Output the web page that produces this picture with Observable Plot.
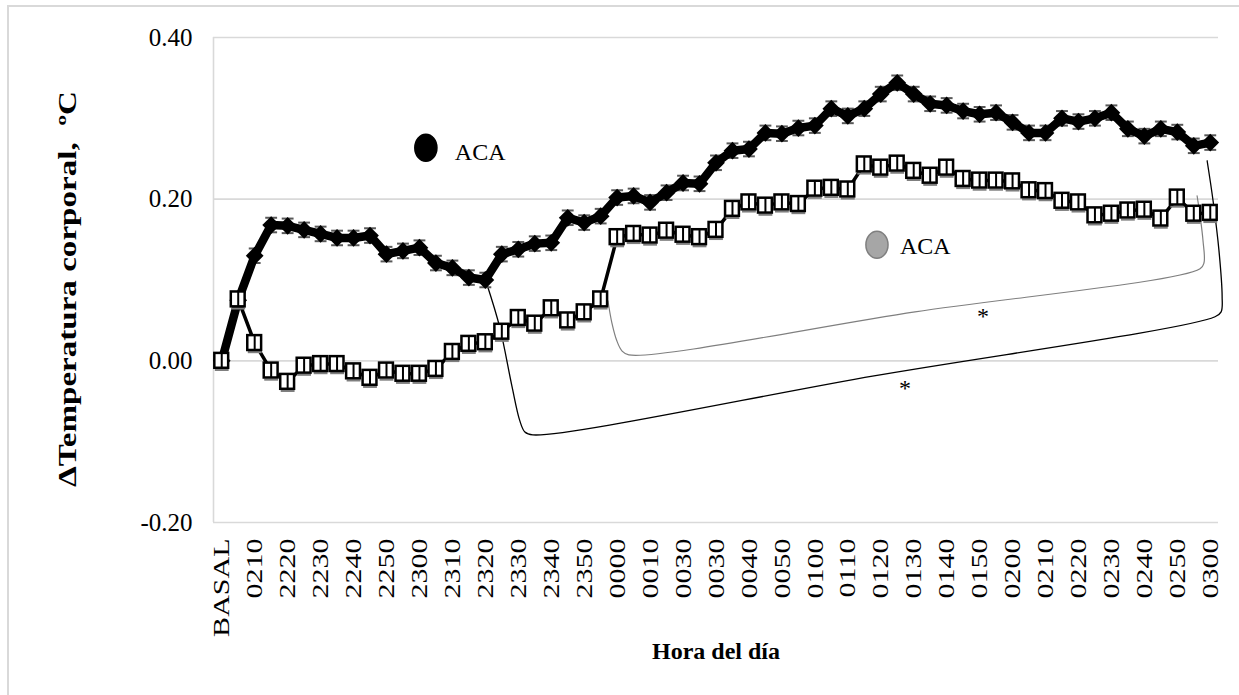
<!DOCTYPE html>
<html>
<head>
<meta charset="utf-8">
<script src="https://cdn.jsdelivr.net/npm/d3@7"></script>
<script src="https://cdn.jsdelivr.net/npm/@observablehq/plot@0.6"></script>
<style>
  html, body { margin: 0; padding: 0; background: #fff; }
  #wrap { position: relative; width: 1239px; height: 695px; overflow: hidden; }
  #frame { position: absolute; left: 7px; top: 5px; width: 1260px; height: 720px;
           border: 2px solid #d9d9d9; box-sizing: border-box; pointer-events: none; }
</style>
</head>
<body>
<div id="wrap"><div id="frame"></div></div>
<script>
// Category labels shown on the time axis (one every second reading)
const tickLabels = ["BASAL","0210","2220","2230","2240","2250","2300","2310","2320","2330",
  "2340","2350","0000","0010","0030","0030","0040","0050","0100","0110","0120","0130",
  "0140","0150","0200","0210","0220","0230","0240","0250","0300"];

// Change in body temperature (°C), filled-diamond series
const acaBlack = [0.000,0.075,0.130,0.168,0.167,0.162,0.157,0.152,0.152,0.155,
  0.132,0.136,0.140,0.121,0.115,0.103,0.100,0.132,0.138,0.145,
  0.146,0.177,0.171,0.179,0.202,0.204,0.196,0.208,0.220,0.219,
  0.245,0.260,0.262,0.282,0.281,0.288,0.291,0.312,0.303,0.312,
  0.330,0.344,0.330,0.318,0.316,0.309,0.305,0.307,0.295,0.282,
  0.282,0.300,0.296,0.300,0.307,0.287,0.278,0.287,0.283,0.266,0.270];

// Change in body temperature (°C), open-square series
const acaSquare = [0.000,0.076,0.022,-0.012,-0.026,-0.006,-0.004,-0.004,-0.013,-0.021,
  -0.012,-0.016,-0.016,-0.010,0.011,0.021,0.023,0.036,0.053,0.046,
  0.065,0.050,0.060,0.076,0.153,0.157,0.155,0.161,0.156,0.153,
  0.162,0.188,0.196,0.192,0.196,0.194,0.213,0.214,0.212,0.243,
  0.239,0.244,0.235,0.229,0.239,0.225,0.223,0.223,0.222,0.211,
  0.210,0.198,0.196,0.180,0.182,0.186,0.187,0.176,0.202,0.182,0.183];

// Standard error (°C) of the filled series
const semBlack = 0.009;

const yTicks = [-0.2, 0, 0.2, 0.4];

// Significance brackets, as [reading index, °C] anchors
const bracketBlack = [[16.09,0.095],[16.88,0.041],[17.61,-0.031],[18.09,-0.074],[18.40,-0.088],
  [18.88,-0.0916],[39.59,-0.0186],[60.29,0.0545],[60.66,0.0606],[60.72,0.080],[60.53,0.136],
  [60.17,0.198],[59.81,0.2475]];
const bracketGray = [[23.44,0.0743],[23.68,0.047],[23.98,0.0248],[24.29,0.0124],[24.71,0.0074],
  [42.08,0.0606],[59.38,0.1139],[59.62,0.1213],[59.56,0.1485],[59.38,0.1795],[59.20,0.2042]];
const stars = [{i: 46.2, v: 0.0545}, {i: 41.47, v: -0.0334}];

// Legend entries placed inside the plot
const legendItems = [
  {i: 12.39, v: 0.2636, ti: 14.15, tv: 0.2583, fill: "#000", stroke: "#000", label: "ACA"},
  {i: 39.77, v: 0.1436, ti: 41.17, tv: 0.1419, fill: "#a6a6a6", stroke: "#7f7f7f", label: "ACA"}
];

const rowsBlack = acaBlack.map((v, i) => ({i, v}));
const rowsSquare = acaSquare.map((v, i) => ({i, v}));

// Upright ellipse marker
const ellipse = {
  draw(ctx, size) {
    const ry = Math.sqrt(size / Math.PI), rx = ry * 0.82, k = 0.5523;
    ctx.moveTo(rx, 0);
    ctx.bezierCurveTo(rx, ry * k, rx * k, ry, 0, ry);
    ctx.bezierCurveTo(-rx * k, ry, -rx, ry * k, -rx, 0);
    ctx.bezierCurveTo(-rx, -ry * k, -rx * k, -ry, 0, -ry);
    ctx.bezierCurveTo(rx * k, -ry, rx, -ry * k, rx, 0);
    ctx.closePath();
  }
};

const yTitle = "\u0394Temperatura corporal, \u00a0\u00baC";
const xTitle = "Hora del d\u00eda";
const halfW = 0.42, halfH = 0.0092;

const chart = Plot.plot({
  width: 1239,
  height: 695,
  marginLeft: 213,
  marginRight: 21,
  marginTop: 37,
  marginBottom: 173,
  style: {fontFamily: "'Liberation Serif', 'Times New Roman', serif", fontSize: "24px",
          color: "#000", background: "transparent", overflow: "visible"},
  x: {type: "linear", domain: [-0.5, acaBlack.length - 0.5]},
  y: {domain: [-0.2, 0.4]},
  marks: [
    Plot.gridY(yTicks, {stroke: "#d9d9d9", strokeOpacity: 1, strokeWidth: 1.6}),
    Plot.ruleX([-0.5], {y1: -0.2, y2: 0.4, stroke: "#d9d9d9", strokeWidth: 1.6}),
    Plot.axisY({ticks: yTicks, tickSize: 0, tickPadding: 21, tickFormat: d => d.toFixed(2),
                fontSize: 25, label: null}),
    Plot.axisX({ticks: d3.range(0, acaBlack.length, 2), tickFormat: i => tickLabels[i / 2],
                tickRotate: -90, tickSize: 0, tickPadding: 16, fontSize: 24, label: null}),

    // significance brackets
    Plot.line(bracketBlack, {x: d => d[0], y: d => d[1], curve: "catmull-rom",
                             stroke: "#000", strokeWidth: 1.3}),
    Plot.line(bracketGray, {x: d => d[0], y: d => d[1], curve: "catmull-rom",
                            stroke: "#7f7f7f", strokeWidth: 1.2}),
    Plot.text(stars, {x: "i", y: "v", text: () => "*", fontSize: 24, fill: "#000"}),

    // filled-diamond series with error caps
    Plot.link(rowsBlack, {x1: d => d.i - 0.36, x2: d => d.i + 0.36,
                          y1: d => d.v + semBlack, y2: d => d.v + semBlack,
                          stroke: "#595959", strokeWidth: 2}),
    Plot.link(rowsBlack, {x1: d => d.i - 0.36, x2: d => d.i + 0.36,
                          y1: d => d.v - semBlack, y2: d => d.v - semBlack,
                          stroke: "#595959", strokeWidth: 2}),
    Plot.line(rowsBlack, {x: "i", y: "v", stroke: "#000", strokeWidth: 8.5,
                          strokeLinejoin: "round"}),
    Plot.dot(rowsBlack, {x: "i", y: "v", symbol: "diamond2", r: 8, fill: "#000"}),

    // open-square series
    Plot.line(rowsSquare, {x: "i", y: "v", stroke: "#000", strokeWidth: 3.5,
                           strokeLinejoin: "round"}),
    Plot.link(rowsSquare, {x1: d => d.i - halfW, x2: d => d.i + halfW,
                           y1: d => d.v - halfH - 0.002, y2: d => d.v - halfH - 0.002,
                           stroke: "#7f7f7f", strokeWidth: 2.2}),
    Plot.rect(rowsSquare, {x1: d => d.i - halfW, x2: d => d.i + halfW,
                           y1: d => d.v - halfH, y2: d => d.v + halfH,
                           fill: "#fff", stroke: "#000", strokeWidth: 2.5}),
    Plot.ruleX(rowsSquare, {x: "i", y1: d => d.v - halfH, y2: d => d.v + halfH,
                            stroke: "#000", strokeWidth: 2}),

    // legend
    Plot.dot(legendItems, {x: "i", y: "v", r: 13.5, symbol: ellipse, fill: "fill",
                           stroke: "stroke", strokeWidth: 1.5}),
    Plot.text(legendItems, {x: "ti", y: "tv", text: "label", textAnchor: "start",
                            fontSize: 24, fill: "#000"}),

    // axis titles (the vertical one grows upward from its start)
    Plot.text([yTitle], {frameAnchor: "left", dx: -146, dy: 207, rotate: -90,
                         textAnchor: "start", fontSize: 25, fontWeight: "bold", fill: "#000"}),
    Plot.text([xTitle], {frameAnchor: "bottom", dy: 136, fontSize: 24,
                         fontWeight: "bold", fill: "#000"})
  ]
});

document.getElementById("wrap").prepend(chart);

// Excel-style elongated vertical text
chart.querySelectorAll('g[aria-label="x-axis tick label"] text').forEach(t => {
  const L = t.getComputedTextLength();
  t.setAttribute("textLength", (L * 1.25).toFixed(1));
  t.setAttribute("lengthAdjust", "spacingAndGlyphs");
});
chart.querySelectorAll("text").forEach(t => {
  if (t.textContent === yTitle) {
    t.setAttribute("textLength", "396");
    t.setAttribute("lengthAdjust", "spacingAndGlyphs");
  }
});
</script>
</body>
</html>
